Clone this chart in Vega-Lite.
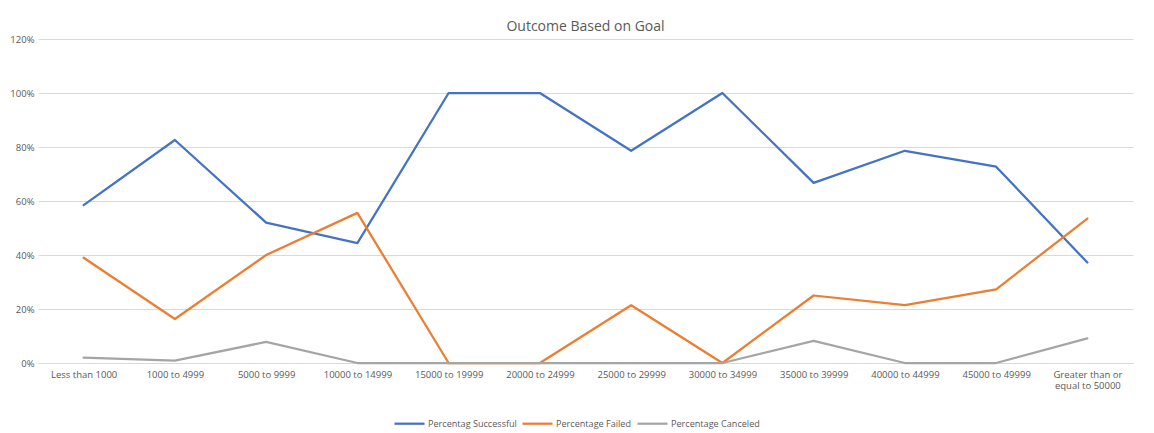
{
  "$schema": "https://vega.github.io/schema/vega-lite/v6.json",
  "width": 1095,
  "height": 324,
  "autosize": "none",
  "padding": {"left": 38, "top": 39, "right": 21, "bottom": 70},
  "background": "white",
  "title": {"text": "Outcome Based on Goal", "fontSize": 14, "font": "Open Sans", "fontWeight": "normal", "color": "#595959", "anchor": "middle", "offset": 0},
  "data": {"values": [
    {"goal": "Less than 1000", "series": "Percentag Successful", "o": 0, "value": 0.585},
    {"goal": "1000 to 4999", "series": "Percentag Successful", "o": 0, "value": 0.826},
    {"goal": "5000 to 9999", "series": "Percentag Successful", "o": 0, "value": 0.52},
    {"goal": "10000 to 14999", "series": "Percentag Successful", "o": 0, "value": 0.444},
    {"goal": "15000 to 19999", "series": "Percentag Successful", "o": 0, "value": 1.0},
    {"goal": "20000 to 24999", "series": "Percentag Successful", "o": 0, "value": 1.0},
    {"goal": "25000 to 29999", "series": "Percentag Successful", "o": 0, "value": 0.786},
    {"goal": "30000 to 34999", "series": "Percentag Successful", "o": 0, "value": 1.0},
    {"goal": "35000 to 39999", "series": "Percentag Successful", "o": 0, "value": 0.667},
    {"goal": "40000 to 44999", "series": "Percentag Successful", "o": 0, "value": 0.786},
    {"goal": "45000 to 49999", "series": "Percentag Successful", "o": 0, "value": 0.727},
    {"goal": "Greater than or equal to 50000", "series": "Percentag Successful", "o": 0, "value": 0.372},
    {"goal": "Less than 1000", "series": "Percentage Failed", "o": 1, "value": 0.39},
    {"goal": "1000 to 4999", "series": "Percentage Failed", "o": 1, "value": 0.163},
    {"goal": "5000 to 9999", "series": "Percentage Failed", "o": 1, "value": 0.40},
    {"goal": "10000 to 14999", "series": "Percentage Failed", "o": 1, "value": 0.556},
    {"goal": "15000 to 19999", "series": "Percentage Failed", "o": 1, "value": 0.0},
    {"goal": "20000 to 24999", "series": "Percentage Failed", "o": 1, "value": 0.0},
    {"goal": "25000 to 29999", "series": "Percentage Failed", "o": 1, "value": 0.214},
    {"goal": "30000 to 34999", "series": "Percentage Failed", "o": 1, "value": 0.0},
    {"goal": "35000 to 39999", "series": "Percentage Failed", "o": 1, "value": 0.25},
    {"goal": "40000 to 44999", "series": "Percentage Failed", "o": 1, "value": 0.214},
    {"goal": "45000 to 49999", "series": "Percentage Failed", "o": 1, "value": 0.273},
    {"goal": "Greater than or equal to 50000", "series": "Percentage Failed", "o": 1, "value": 0.535},
    {"goal": "Less than 1000", "series": "Percentage Canceled", "o": 2, "value": 0.02},
    {"goal": "1000 to 4999", "series": "Percentage Canceled", "o": 2, "value": 0.009},
    {"goal": "5000 to 9999", "series": "Percentage Canceled", "o": 2, "value": 0.078},
    {"goal": "10000 to 14999", "series": "Percentage Canceled", "o": 2, "value": 0.0},
    {"goal": "15000 to 19999", "series": "Percentage Canceled", "o": 2, "value": 0.0},
    {"goal": "20000 to 24999", "series": "Percentage Canceled", "o": 2, "value": 0.0},
    {"goal": "25000 to 29999", "series": "Percentage Canceled", "o": 2, "value": 0.0},
    {"goal": "30000 to 34999", "series": "Percentage Canceled", "o": 2, "value": 0.0},
    {"goal": "35000 to 39999", "series": "Percentage Canceled", "o": 2, "value": 0.082},
    {"goal": "40000 to 44999", "series": "Percentage Canceled", "o": 2, "value": 0.0},
    {"goal": "45000 to 49999", "series": "Percentage Canceled", "o": 2, "value": 0.0},
    {"goal": "Greater than or equal to 50000", "series": "Percentage Canceled", "o": 2, "value": 0.091}
  ]},
  "mark": {"type": "line", "strokeWidth": 2.25, "strokeCap": "round", "strokeJoin": "round"},
  "encoding": {
    "x": {
      "field": "goal", "type": "nominal", "sort": null,
      "scale": {"type": "point", "padding": 0.5},
      "axis": {
        "title": null, "labelAngle": 0, "ticks": false, "grid": false,
        "domainColor": "#d9d9d9", "domainWidth": 1,
        "labelColor": "#595959", "labelFont": "Open Sans", "labelFontSize": 9.5, "labelPadding": 6,
        "labelExpr": "datum.value == 'Greater than or equal to 50000' ? ['Greater than or', 'equal to 50000'] : datum.value"
      }
    },
    "y": {
      "field": "value", "type": "quantitative",
      "scale": {"domain": [0, 1.2], "nice": false},
      "axis": {
        "title": null, "format": ".0%", "values": [0, 0.2, 0.4, 0.6, 0.8, 1.0, 1.2],
        "domain": false, "ticks": false, "gridColor": "#d9d9d9", "gridWidth": 1,
        "labelColor": "#595959", "labelFont": "Open Sans", "labelFontSize": 9.5, "labelPadding": 4
      }
    },
    "color": {
      "field": "series", "type": "nominal",
      "sort": ["Percentag Successful", "Percentage Failed", "Percentage Canceled"],
      "scale": {"domain": ["Percentag Successful", "Percentage Failed", "Percentage Canceled"], "range": ["#4472C4", "#ED7D31", "#A5A5A5"]},
      "legend": {
        "title": null, "orient": "none", "direction": "horizontal", "legendX": 355, "legendY": 368,
        "symbolType": "stroke", "symbolStrokeWidth": 2.25, "symbolSize": 900,
        "labelColor": "#595959", "labelFont": "Open Sans", "labelFontSize": 9.1, "columnPadding": 1, "labelOffset": 2
      }
    },
    "order": {"field": "o"}
  },
  "config": {"view": {"stroke": null}}
}
